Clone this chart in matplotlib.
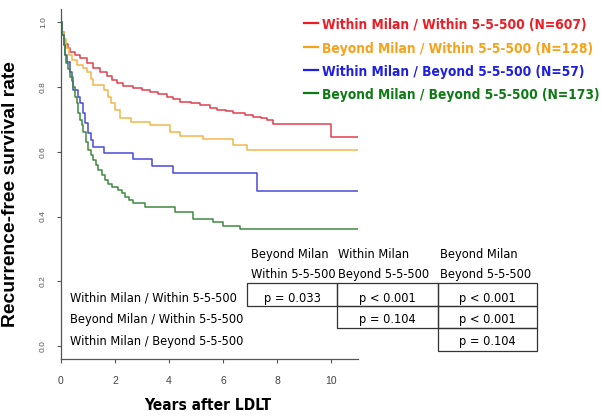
import matplotlib
matplotlib.use("Agg")
import matplotlib.pyplot as plt
from matplotlib import font_manager
from matplotlib.font_manager import FontProperties
from matplotlib.patches import Rectangle
from matplotlib.lines import Line2D

# ---- data -------------------------------------------------------------
groups = [
    "Within Milan / Within 5-5-500",
    "Beyond Milan / Within 5-5-500",
    "Within Milan / Beyond 5-5-500",
    "Beyond Milan / Beyond 5-5-500",
]
group_n = [607, 128, 57, 173]

red_t = [0, 0.05, 0.1, 0.15, 0.25, 0.33, 0.5, 0.7, 0.95, 1.2, 1.44, 1.7, 1.9, 2.06,
         2.3, 2.68, 3.0, 3.3, 3.6, 3.91, 4.15, 4.4, 4.8, 5.15, 5.5, 5.77, 6.1, 6.38,
         6.8, 7.12, 7.4, 7.62, 7.86, 10.0, 11.0]
red_s = [1.0, 0.97, 0.95, 0.935, 0.92, 0.91, 0.90, 0.89, 0.874, 0.86, 0.848, 0.835,
         0.822, 0.812, 0.805, 0.797, 0.791, 0.786, 0.779, 0.771, 0.763, 0.755, 0.75,
         0.745, 0.737, 0.73, 0.725, 0.721, 0.715, 0.709, 0.704, 0.699, 0.686, 0.647,
         0.647]

orange_t = [0, 0.05, 0.1, 0.2, 0.3, 0.4, 0.6, 0.8, 0.95, 1.1, 1.2, 1.6, 1.75, 1.85,
            2.0, 2.19, 2.6, 3.3, 4.04, 4.4, 5.27, 6.38, 6.88, 11.0]
orange_s = [1.0, 0.97, 0.95, 0.92, 0.90, 0.884, 0.87, 0.86, 0.848, 0.825, 0.807,
            0.79, 0.77, 0.75, 0.73, 0.704, 0.693, 0.683, 0.662, 0.649, 0.639, 0.621,
            0.606, 0.606]

blue_t = [0, 0.05, 0.1, 0.15, 0.21, 0.33, 0.4, 0.46, 0.64, 0.7, 0.83, 0.9, 1.01,
          1.1, 1.2, 1.58, 2.68, 3.36, 4.16, 7.27, 11.0]
blue_s = [1.0, 0.96, 0.93, 0.90, 0.879, 0.848, 0.82, 0.791, 0.771, 0.75, 0.719,
          0.69, 0.657, 0.636, 0.616, 0.596, 0.577, 0.557, 0.536, 0.48, 0.48]

green_t = [0, 0.05, 0.1, 0.15, 0.2, 0.27, 0.35, 0.46, 0.52, 0.58, 0.64, 0.7, 0.77,
           0.83, 0.92, 1.01, 1.1, 1.2, 1.3, 1.38, 1.5, 1.63, 1.75, 1.88, 2.12, 2.25,
           2.37, 2.5, 2.68, 3.11, 4.22, 4.9, 5.64, 5.99, 6.63, 11.0]
green_s = [1.0, 0.96, 0.93, 0.90, 0.875, 0.855, 0.83, 0.80, 0.77, 0.75, 0.72, 0.70,
           0.683, 0.66, 0.63, 0.606, 0.59, 0.575, 0.56, 0.544, 0.53, 0.513, 0.50,
           0.492, 0.482, 0.472, 0.462, 0.452, 0.441, 0.431, 0.415, 0.393, 0.382,
           0.371, 0.361, 0.361]

x_ticks = [0, 2, 4, 6, 8, 10]
y_ticks = [0.0, 0.2, 0.4, 0.6, 0.8, 1.0]

col_headers = [("Beyond Milan", "Within 5-5-500"),
               ("Within Milan", "Beyond 5-5-500"),
               ("Beyond Milan", "Beyond 5-5-500")]
row_headers = groups[:3]
p_table = [["p = 0.033", "p < 0.001", "p < 0.001"],
           [None, "p = 0.104", "p < 0.001"],
           [None, None, "p = 0.104"]]

# ---- styling ------------------------------------------------------------
line_colors = ["#E2404E", "#F2B64A", "#4A4AD8", "#3E8A40"]
text_colors = ["#EE1C25", "#F7A21B", "#1F1FE0", "#0E7A16"]

names = {f.name for f in font_manager.fontManager.ttflist}
REG = "Liberation Sans" if "Liberation Sans" in names else "DejaVu Sans"


def narrow_font(bold=False):
    """Pick a condensed/narrow sans face if one is installed."""
    want = "bold" if bold else "normal"
    cands = []
    for f in font_manager.fontManager.ttflist:
        key = (f.name + " " + f.fname).lower()
        if ("narrow" in key or "condensed" in key) and "mono" not in key \
                and "serif" not in key.replace("sans", "") and "italic" not in key \
                and "oblique" not in key:
            isbold = f.weight in ("bold", 700, "heavy") or "bold" in key
            if isbold == bold:
                rank = 0 if "liberation" in key else 1 if "dejavu" in key else 2
                cands.append((rank, f.fname))
    if cands:
        cands.sort()
        return FontProperties(fname=cands[0][1])
    return FontProperties(family=REG, weight=want)


NAR = narrow_font(False)
NAR_B = narrow_font(True)

W, H = 602, 416
fig = plt.figure(figsize=(W / 100, H / 100), dpi=100)
renderer = fig.canvas.get_renderer()


def fx(px):
    return px / W


def fy(py):
    return 1 - py / H


def size_for_width(text, prop, width_px):
    """Font size (pt) that makes `text` span width_px pixels."""
    p = prop.copy()
    p.set_size(10)
    t = fig.text(0, 0, text, fontproperties=p)
    w = t.get_window_extent(renderer).width
    t.remove()
    return 10 * width_px / w


ax = fig.add_axes([fx(61), fy(359), fx(358) - fx(61), fy(9.3) - fy(359)])
ax.set_xlim(0, 11)
ax.set_ylim(-0.0402, 1.0408)

curves = [(red_t, red_s), (orange_t, orange_s), (blue_t, blue_s), (green_t, green_s)]
for (t, s), c in zip(curves, line_colors):
    ax.step(t, s, where="post", color=c, lw=1.1)

for side in ("top", "right"):
    ax.spines[side].set_visible(False)
for side in ("left", "bottom"):
    ax.spines[side].set_color("#555555")
    ax.spines[side].set_linewidth(0.9)

ax.set_xticks(x_ticks)
ax.set_xticklabels([str(v) for v in x_ticks], fontfamily=REG, fontsize=7.5,
                   color="#444444")
ax.set_yticks(y_ticks)
ax.set_yticklabels([f"{v:.1f}" for v in y_ticks], fontfamily=REG, fontsize=6,
                   color="#555555", rotation=90, va="center")
ax.tick_params(axis="x", length=3, width=0.8, color="#555555", pad=9)
ax.tick_params(axis="y", length=3, width=0.8, color="#555555", pad=7)

# axis titles
fig.text(fx(11), fy(194), "Recurrence-free survival rate", rotation=90,
         ha="center", va="center", fontfamily=REG, fontweight="bold",
         fontsize=13.9, color="black")
xl_prop = NAR_B.copy()
xl_prop.set_size(size_for_width("Years after LDLT", NAR_B, 126))
fig.text(fx(208), fy(410), "Years after LDLT", ha="center", va="baseline",
         fontproperties=xl_prop, color="black")

# legend
leg_prop = NAR_B.copy()
leg_prop.set_size(size_for_width(f"{groups[0]} (N={group_n[0]})", NAR_B, 266))
for i, (g, n) in enumerate(zip(groups, group_n)):
    base = 29.3 + 23.3 * i
    fig.add_artist(Line2D([fx(304), fx(318)], [fy(base - 6)] * 2,
                          color=text_colors[i], lw=1.6))
    fig.text(fx(321.5), fy(base), f"{g} (N={n})", ha="left", va="baseline",
             fontproperties=leg_prop, color=text_colors[i])

# pairwise comparison table
tab_prop = NAR.copy()
tab_prop.set_size(size_for_width(row_headers[0], NAR, 168))
col_left = [250.7, 338.3, 440.0]
for x0, (l1, l2) in zip(col_left, col_headers):
    fig.text(fx(x0), fy(258.3), l1, ha="left", va="baseline", fontproperties=tab_prop)
    fig.text(fx(x0), fy(277.7), l2, ha="left", va="baseline", fontproperties=tab_prop)

row_base = [301.7, 323.3, 345.0]
for yb, lab in zip(row_base, row_headers):
    fig.text(fx(70), fy(yb), lab, ha="left", va="baseline", fontproperties=tab_prop)

col_edges = [246.7, 337.3, 438.3, 537.3]
row_edges = [283.3, 306.0, 328.3, 350.7]
for r, row in enumerate(p_table):
    for c, val in enumerate(row):
        if val is None:
            continue
        x0, x1 = col_edges[c], col_edges[c + 1]
        y0, y1 = row_edges[r], row_edges[r + 1]
        fig.add_artist(Rectangle((fx(x0), fy(y1)), fx(x1) - fx(x0), fy(y0) - fy(y1),
                                 transform=fig.transFigure, facecolor="none",
                                 edgecolor="#333333", lw=0.9))
        fig.text(fx((x0 + x1) / 2), fy(row_base[r]), val, ha="center",
                 va="baseline", fontproperties=tab_prop)

fig.savefig("out.png", dpi=100)
